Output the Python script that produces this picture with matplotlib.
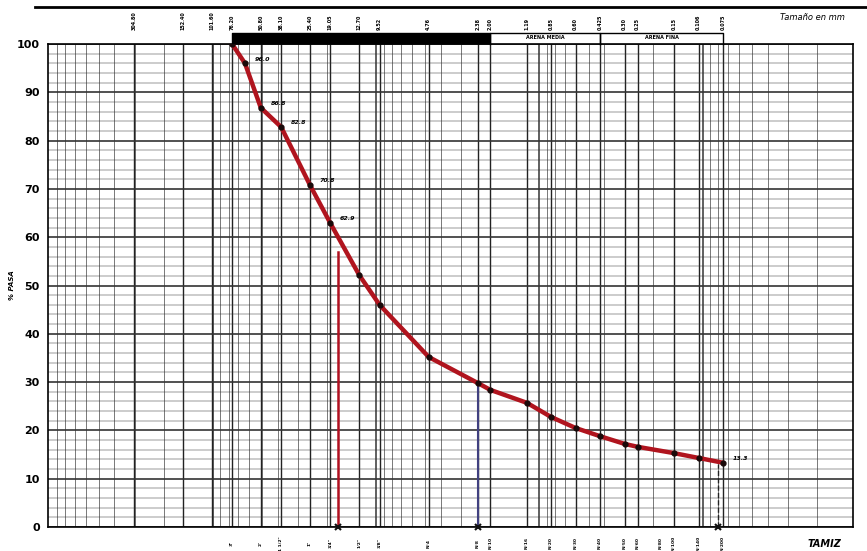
import numpy as np
import matplotlib.pyplot as plt

# tamaños de tamiz (mm) y % que pasa
diam = [76.2, 63.5, 50.8, 38.1, 25.4, 19.05, 12.7, 9.52, 4.76, 2.38, 2.00,
        1.19, 0.85, 0.60, 0.425, 0.30, 0.25, 0.15, 0.106, 0.075]
pasa = [100.0, 96.0, 86.8, 82.8, 70.8, 62.9, 52.2, 46.0, 35.2, 29.8, 28.4,
        25.7, 22.8, 20.5, 18.8, 17.2, 16.6, 15.3, 14.3, 13.3]
etiq_idx = [1, 2, 3, 4, 5, 19]   # puntos con valor escrito

top_mm = [304.80, 152.40, 101.60, 76.20, 50.80, 38.10, 25.40, 19.05, 12.70, 9.52,
          4.76, 2.38, 2.00, 1.19, 0.85, 0.60, 0.425, 0.30, 0.25, 0.15, 0.106, 0.075]
top_lab = ['304.80', '152.40', '101.60', '76.20', '50.80', '38.10', '25.40', '19.05',
           '12.70', '9.52', '4.76', '2.38', '2.00', '1.19', '0.85', '0.60', '0.425',
           '0.30', '0.25', '0.15', '0.106', '0.075']
tamiz_mm = [76.2, 50.8, 38.1, 25.4, 19.05, 12.7, 9.52, 4.76, 2.38, 2.00, 1.19,
            0.85, 0.60, 0.425, 0.30, 0.25, 0.18, 0.15, 0.106, 0.075]
tamiz_lab = ['3"', '2"', '1 1/2"', '1"', '3/4"', '1/2"', '3/8"', 'N°4', 'N°8', 'N°10',
             'N°16', 'N°20', 'N°30', 'N°40', 'N°50', 'N°60', 'N°80', 'N°100', 'N°140', 'N°200']

d60, d30, d10 = 17.1, 2.38, 0.08

fig = plt.figure(figsize=(8.67, 5.51), dpi=100)
ax = fig.add_axes([48/867, 1-527/551, (853-48)/867, (527-44)/551])
ax.set_xscale('log')
ax.set_xlim(1021, 0.012)
ax.set_ylim(0, 100)

# cuadricula
for dec in [1000, 100, 10, 1, 0.1, 0.01]:
    for k in range(1, 10):
        v = dec*k/10.0
        if 0.012 <= v <= 1021:
            ax.axvline(v, color='#444444', lw=0.5 if k > 1 else 1.2, zorder=1)
for t in top_mm:
    ax.axvline(t, color='#222222', lw=1.0, zorder=1)
for y in range(0, 101, 2):
    ax.axhline(y, color='#333333', lw=1.2 if y % 10 == 0 else 0.35, zorder=1)

ax.set_yticks(range(0, 101, 10))
ax.set_yticklabels([str(v) for v in range(0, 101, 10)], fontsize=8, fontweight='bold')
ax.set_xticks([])
ax.minorticks_off()
ax.tick_params(axis='y', length=0, pad=6)
for s in ax.spines.values():
    s.set_linewidth(1.2)
ax.text(-0.045, 0.5, '% PASA', transform=ax.transAxes, rotation=90, fontsize=5,
        fontweight='bold', style='italic', ha='center', va='center')

# lineas verticales D60, D30, D10
ax.plot([d60, d60], [0, 57], color='#b01020', lw=1.8, zorder=3)
ax.plot([d30, d30], [0, 30], color='#404080', lw=1.5, zorder=3)
ax.plot([d10, d10], [0, 13], color='#222222', lw=1.0, ls='--', zorder=3)
ax.plot([d60, d30, d10], [0, 0, 0], 'x', color='#111111', ms=4, mew=1.5, zorder=4,
        clip_on=False)

# curva granulometrica
ax.plot(diam, pasa, color='#b0141e', lw=3.2, zorder=5, solid_capstyle='round')
ax.plot(diam, pasa, 'o', color='#1a0a0a', ms=3.5, zorder=6)
for i in etiq_idx:
    ax.annotate('%.1f' % pasa[i], (diam[i], pasa[i]), xytext=(7, 2),
                textcoords='offset points', fontsize=4.5, fontweight='bold',
                style='italic', zorder=7)

# etiquetas superiores (mm)
for t, lab in zip(top_mm, top_lab):
    ax.text(t, 1.028, lab, transform=ax.get_xaxis_transform(), rotation=90,
            fontsize=3.5, fontweight='bold', ha='center', va='bottom', clip_on=False)
ax.text(0.99, 1.045, 'Tamaño en mm', transform=ax.transAxes, fontsize=6,
        style='italic', ha='right', va='bottom')

# barra de clasificacion
ax.fill_between([76.2, 2.0], 100.2, 102.3, color='black', clip_on=False, zorder=4)
for a, b, lab in [(2.0, 0.425, 'ARENA MEDIA'), (0.425, 0.075, 'ARENA FINA')]:
    ax.plot([a, a, b, b], [100, 102.3, 102.3, 100], color='black', lw=1.0,
            clip_on=False)
    ax.text(np.sqrt(a*b), 101.4, lab, fontsize=3.5, fontweight='bold',
            ha='center', va='center', clip_on=False)

# linea superior
fig.add_artist(plt.Line2D([35/867, 1.0], [1-7/551, 1-7/551], color='black', lw=2))

# tamices abajo
for t, lab in zip(tamiz_mm, tamiz_lab):
    ax.text(t, -0.034, lab, transform=ax.get_xaxis_transform(), rotation=90,
            fontsize=3.2, fontweight='bold', ha='center', va='center', clip_on=False)
ax.text(0.985, -0.025, 'TAMIZ', transform=ax.transAxes, fontsize=7,
        fontweight='bold', style='italic', ha='right', va='top')

fig.savefig('out.png', dpi=100)
